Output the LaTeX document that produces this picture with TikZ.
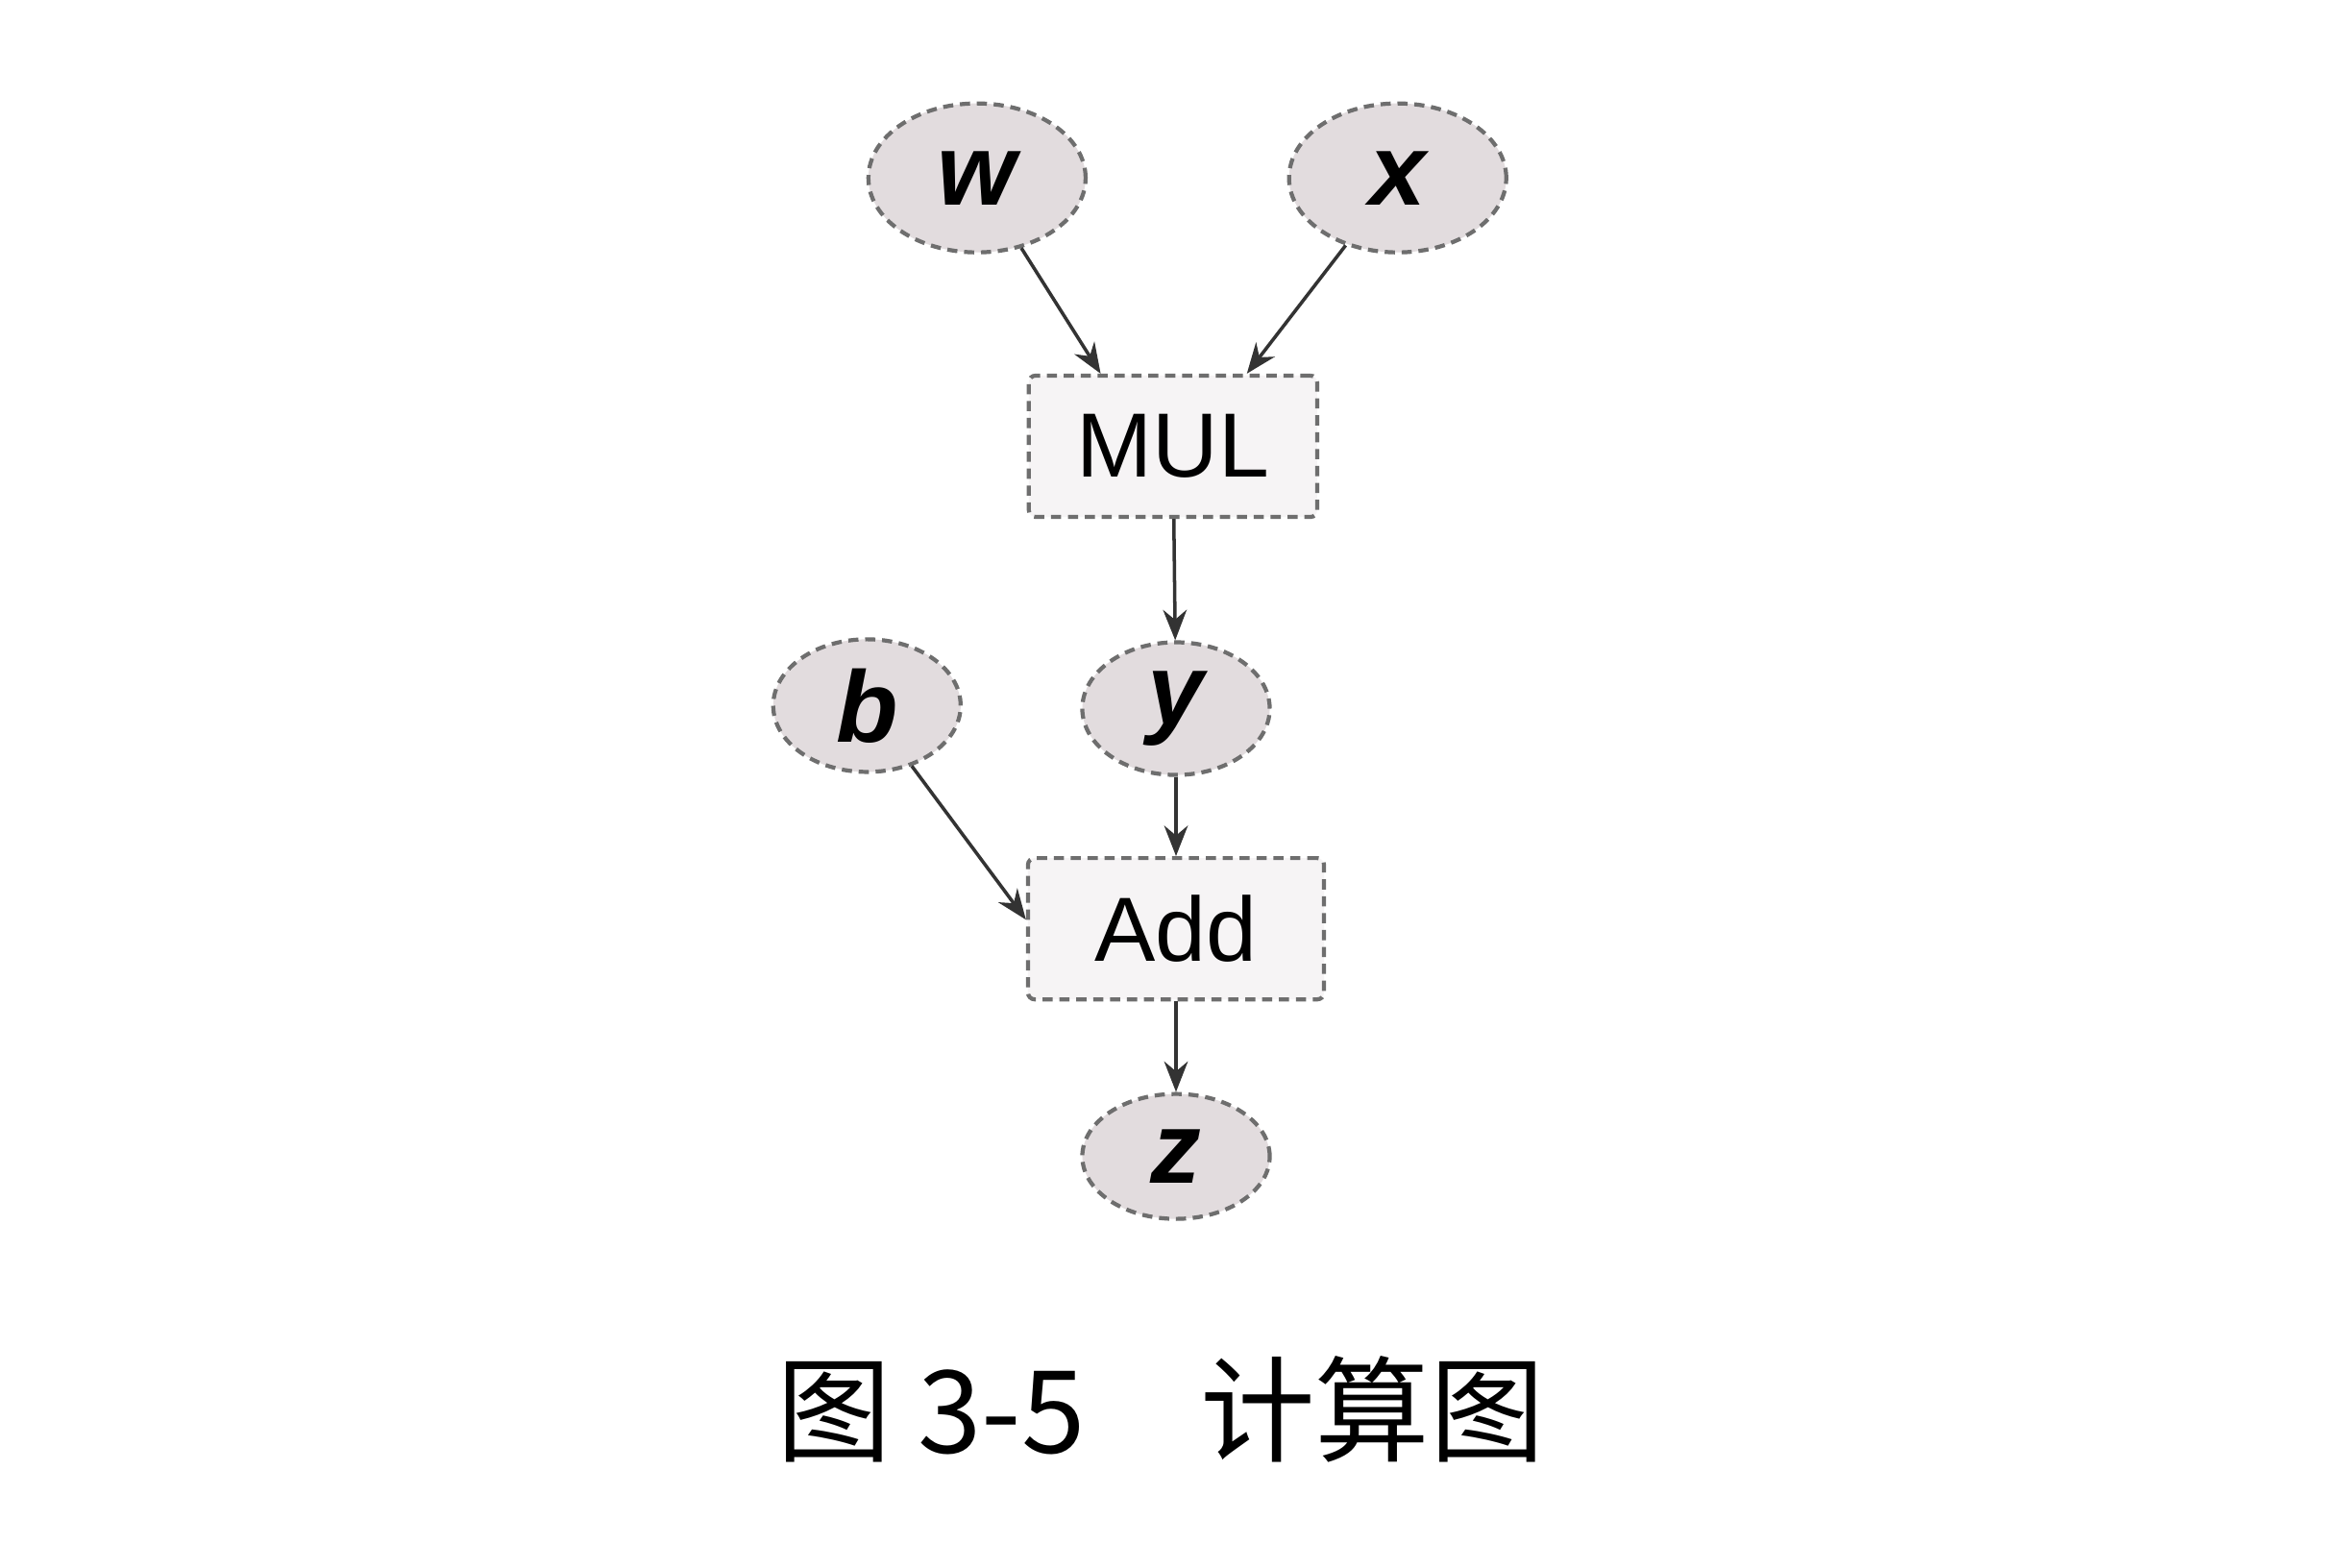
\documentclass[tikz,border=0pt]{standalone}
\usepackage{fontspec}
\setmainfont{Liberation Sans}
\newfontfamily\cjk{Noto Sans CJK SC}
\usetikzlibrary{shapes.geometric,arrows.meta}
\definecolor{ellfill}{RGB}{226,220,222}
\definecolor{boxfill}{RGB}{246,244,245}
\definecolor{edge}{RGB}{110,110,110}
\tikzset{
 var/.style={ellipse,draw=edge,densely dashed,line width=1.2pt,fill=ellfill,inner sep=0pt,
   font=\fontsize{30}{30}\selectfont\bfseries\itshape},
 big/.style={minimum width=2.26cm,minimum height=1.55cm},
 small/.style={minimum width=1.95cm,minimum height=1.38cm},
 op/.style={rectangle,draw=edge,densely dashed,line width=1.2pt,fill=boxfill,rounded corners=2pt,
   minimum width=3.0cm,minimum height=1.47cm,font=\fontsize{27}{27}\selectfont},
 arr/.style={-{Stealth[length=9pt,width=7pt]},line width=1pt,black!80}
}
\begin{document}
\begin{tikzpicture}[x=0.01569cm,y=-0.01569cm]
\useasboundingbox[fill=white] (0,0) rectangle (1560,1040);
\node[var,big] (w) at (648,118) {w};
\node[var,big] (x) at (927,118) {x};
\node[op] (mul) at (778,296) {MUL};
\node[var,small] (y) at (780,470) {y};
\node[var,small] (b) at (575,468) {b};
\node[op,minimum width=3.08cm] (add) at (780,616) {Add};
\node[var,small,minimum height=1.3cm] (z) at (780,767) {z};
\node[font=\cjk\fontsize{34}{34}\selectfont] (cap) at (770,935) {图 3-5\quad 计算图};
\draw[arr] (w) -- (mul.north west -| 730,0);
\draw[arr] (x) -- (mul.north west -| 827,0);
\draw[arr] (mul) -- (y);
\draw[arr] (y) -- (add);
\draw[arr] (b) -- (add.west |- 0,610);
\draw[arr] (add) -- (z);
\end{tikzpicture}
\end{document}
